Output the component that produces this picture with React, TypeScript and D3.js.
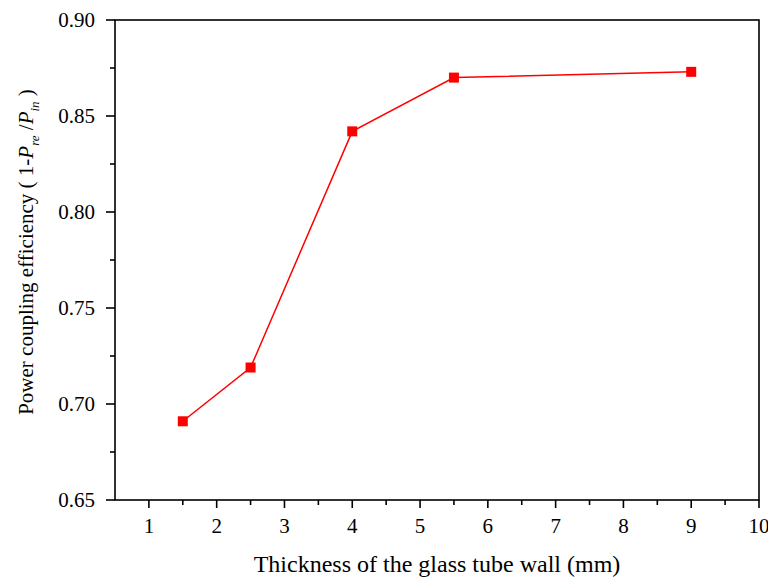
import React from "react";
import * as d3 from "d3";

const thickness = [1.5, 2.5, 4, 5.5, 9];
const efficiency = [0.691, 0.719, 0.842, 0.870, 0.873];
const xTicks = [1, 2, 3, 4, 5, 6, 7, 8, 9, 10];
const xMinorTicks = [1.5, 2.5, 3.5, 4.5, 5.5, 6.5, 7.5, 8.5, 9.5];
const yTicks = [0.65, 0.7, 0.75, 0.8, 0.85, 0.9];
const yMinorTicks = [0.675, 0.725, 0.775, 0.825, 0.875];
const xTitle = "Thickness of the glass tube wall (mm)";

export default function App() {
  const W = 768, H = 580;
  const left = 115, right = 759, top = 20, bottom = 500;
  const x = d3.scaleLinear().domain([0.5, 10]).range([left, right]);
  const y = d3.scaleLinear().domain([0.65, 0.9]).range([bottom, top]);
  const line = d3.line<number>().x((_, i) => x(thickness[i])).y((d) => y(d));
  const font = "Liberation Serif";
  const fs = 21;
  return (
    <svg width={W} height={H} style={{ position: "absolute", left: 0, top: 0, background: "#fff" }}>
      <rect x={0} y={0} width={W} height={H} fill="#fff" />
      <rect x={left} y={top} width={right - left} height={bottom - top} fill="none" stroke="#000" strokeWidth={1.6} />
      {xTicks.map((t) => (
        <g key={"x" + t}>
          <line x1={x(t)} x2={x(t)} y1={bottom} y2={bottom + 8} stroke="#000" strokeWidth={1.6} />
          <text x={x(t)} y={bottom + 33} textAnchor="middle" fontSize={fs} fontFamily={font} fill="#000">{t}</text>
        </g>
      ))}
      {xMinorTicks.map((t) => (
        <line key={"xm" + t} x1={x(t)} x2={x(t)} y1={bottom} y2={bottom + 5} stroke="#000" strokeWidth={1.6} />
      ))}
      {yTicks.map((t) => (
        <g key={"y" + t}>
          <line x1={left - 9} x2={left} y1={y(t)} y2={y(t)} stroke="#000" strokeWidth={1.6} />
          <text x={left - 20} y={y(t) + 7} textAnchor="end" fontSize={fs} fontFamily={font} fill="#000">{t.toFixed(2)}</text>
        </g>
      ))}
      {yMinorTicks.map((t) => (
        <line key={"ym" + t} x1={left - 5} x2={left} y1={y(t)} y2={y(t)} stroke="#000" strokeWidth={1.6} />
      ))}
      <path d={line(efficiency) || ""} fill="none" stroke="#ff0000" strokeWidth={1.5} />
      {efficiency.map((v, i) => (
        <rect key={i} x={x(thickness[i]) - 5} y={y(v) - 5} width={10} height={10} fill="#ff0000" />
      ))}
      <text x={437} y={572} textAnchor="middle" fontSize={24} fontFamily={font} fill="#000">{xTitle}</text>
      <text transform={`translate(33, 252) rotate(-90)`} textAnchor="middle" fontSize={21} fontFamily={font} fill="#000">
        <tspan>Power coupling efficiency ( 1-</tspan>
        <tspan fontStyle="italic">P</tspan>
        <tspan fontStyle="italic" fontSize={13} dy={6}>re</tspan>
        <tspan dy={-6}> /</tspan>
        <tspan fontStyle="italic">P</tspan>
        <tspan fontStyle="italic" fontSize={13} dy={6}>in</tspan>
        <tspan dy={-6}> )</tspan>
      </text>
    </svg>
  );
}
